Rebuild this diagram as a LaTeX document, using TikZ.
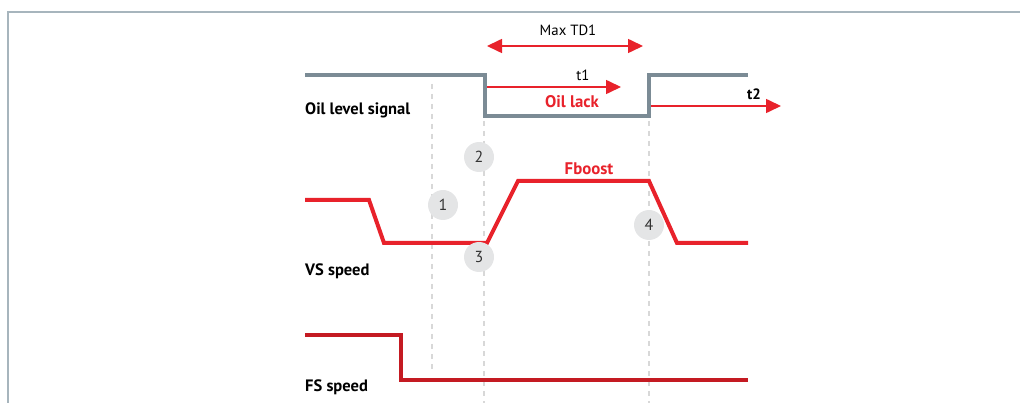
\documentclass[tikz,border=0pt]{standalone}
\usepackage{fontspec}
\setmainfont{PT Sans}
\usetikzlibrary{arrows.meta}
\definecolor{sigred}{HTML}{E8222B}
\definecolor{fsred}{HTML}{C41A22}
\definecolor{sigrey}{HTML}{7B8B95}
\definecolor{framec}{HTML}{A7B5BD}
\definecolor{circfill}{HTML}{E4E5E6}
\definecolor{dashc}{HTML}{D8D8D8}
\tikzset{
  wave/.style={line width=4pt, line join=miter},
  guide/.style={dashc, line width=1.2pt, dash pattern=on 5pt off 5pt},
  timearrow/.style={sigred, line width=1.6pt, -{Triangle[length=15pt,width=14pt]}},
  timearrow2/.style={sigred, line width=1.6pt, {Triangle[length=15pt,width=14pt]}-{Triangle[length=15pt,width=14pt]}},
  lbl/.style={font=\bfseries\fontsize{16.5}{18}\selectfont, anchor=west, inner sep=0pt},
  txt/.style={font=\fontsize{14.8}{16}\selectfont, inner sep=0pt},
  redtxt/.style={font=\bfseries\fontsize{16.8}{18}\selectfont, text=sigred, inner sep=0pt},
  marker/.style={circle, fill=circfill, minimum size=30pt, inner sep=0pt, font=\fontsize{16}{18}\selectfont, text=black!80}
}
\begin{document}
\begin{tikzpicture}[x=1pt,y=-1pt]
\useasboundingbox (0,0) rectangle (1020,403);
% frame
\draw[framec, line width=1.5pt] (8,403) -- (8,12) -- (1020,12);
% guide lines
\draw[guide] (432,84) -- (432,372);
\draw[guide] (484,121) -- (484,403);
\draw[guide] (649,121) -- (649,403);
% oil level signal
\draw[wave, sigrey] (305,75) -- (485,75) -- (485,116) -- (649,116) -- (649,75) -- (748,75);
% VS speed
\draw[wave, sigred] (305,200) -- (369,200) -- (384,243) -- (487,243) -- (518,181) -- (649,181) -- (677,243) -- (748,243);
% FS speed
\draw[wave, fsred] (305,335) -- (401,335) -- (401,380) -- (748,380);
% arrows
\coordinate (tdA) at (487,46);
\coordinate (tdB) at (643,46);
\coordinate (t1A) at (487,87);
\coordinate (t1B) at (621,87);
\coordinate (t2A) at (651,106);
\coordinate (t2B) at (781,106);
\draw[timearrow2] (tdA) -- (tdB);
\draw[timearrow] (t1A) -- (t1B);
\draw[timearrow] (t2A) -- (t2B);
% texts
\node[txt] (maxtd) at (568,30) {Max TD1};
\node[txt] (tone) at (583,75) {t1};
\node[txt, font=\bfseries\fontsize{15}{16}\selectfont] (ttwo) at (754,94) {t2};
\node[redtxt] (oillack) at (572,102) {Oil lack};
\node[redtxt] (fboost) at (589,169) {Fboost};
\node[lbl] (oilsig) at (305,110) {Oil level signal};
\node[lbl] (vs) at (305,271) {VS speed};
\node[lbl] (fs) at (305,387) {FS speed};
% markers
\node[marker] (m1) at (443,205) {1};
\node[marker] (m2) at (479,157) {2};
\node[marker] (m3) at (479,257) {3};
\node[marker] (m4) at (649,225) {4};
\end{tikzpicture}
\end{document}
